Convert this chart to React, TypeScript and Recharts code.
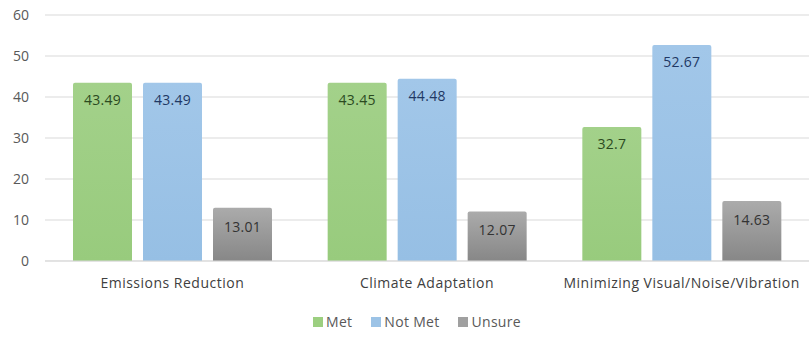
import React from "react";
import { BarChart, Bar, XAxis, YAxis, CartesianGrid, Legend, LabelList } from "recharts";

const categories = ["Emissions Reduction", "Climate Adaptation", "Minimizing Visual/Noise/Vibration"];
const met = [43.49, 43.45, 32.7];
const notMet = [43.49, 44.48, 52.67];
const unsure = [13.01, 12.07, 14.63];
const yTicks = [0, 10, 20, 30, 40, 50, 60];
const seriesNames = ["Met", "Not Met", "Unsure"];
const seriesColors = ["#9ccf80", "#9cc3e6", "#a0a0a0"];

const data = categories.map((c, i) => ({ name: c, Met: met[i], "Not Met": notMet[i], Unsure: unsure[i] }));

const FONT = "'Open Sans', sans-serif";

const LegendContent = () => (
  <div style={{ display: "flex", alignItems: "center", height: 20, paddingLeft: 313, fontFamily: FONT, fontSize: 14, letterSpacing: 0.3, color: "#595959" }}>
    {seriesNames.map((n, i) => (
      <div key={n} style={{ display: "flex", alignItems: "center", marginRight: 19 }}>
        <span style={{ display: "inline-block", width: 10, height: 10, background: seriesColors[i], marginRight: 3 }} />
        <span style={{ lineHeight: "20px" }}>{n}</span>
      </div>
    ))}
  </div>
);

export default function App() {
  return (
    <div style={{ position: "absolute", left: 0, top: 0, width: 809, height: 339, background: "#fff", fontFamily: FONT }}>
      <BarChart
        width={809}
        height={339}
        data={data}
        margin={{ top: 15, right: 0, bottom: 0, left: 0 }}
        barCategoryGap={28}
        barGap={11}
      >
        <defs>
          <linearGradient id="gGreen" x1="0" y1="0" x2="0" y2="1">
            <stop offset="0%" stopColor="#a3d18a" />
            <stop offset="100%" stopColor="#98cb7d" />
          </linearGradient>
          <linearGradient id="gBlue" x1="0" y1="0" x2="0" y2="1">
            <stop offset="0%" stopColor="#a2c7e9" />
            <stop offset="100%" stopColor="#96bfe4" />
          </linearGradient>
          <linearGradient id="gGray" x1="0" y1="0" x2="0" y2="1">
            <stop offset="0%" stopColor="#ababab" />
            <stop offset="100%" stopColor="#878787" />
          </linearGradient>
        </defs>
        <CartesianGrid vertical={false} stroke="#d9d9d9" />
        <XAxis
          dataKey="name"
          axisLine={{ stroke: "#d9d9d9" }}
          tickLine={false}
          tickMargin={11}
          height={35}
          tick={{ fill: "#404040", fontSize: 14, fontFamily: FONT, letterSpacing: 0.5 }}
        />
        <YAxis
          domain={[0, 60]}
          ticks={yTicks}
          axisLine={false}
          tickLine={false}
          width={45}
          tickMargin={10}
          tick={{ fill: "#595959", fontSize: 14, fontFamily: FONT }}
        />
        <Legend
          verticalAlign="bottom"
          height={27}
          wrapperStyle={{ paddingTop: 16 }}
          content={<LegendContent />}
        />
        <Bar dataKey="Met" fill="url(#gGreen)" barSize={59} radius={[2, 2, 0, 0]} isAnimationActive={false}>
          <LabelList dataKey="Met" position="insideTop" offset={12} style={{ fill: "#2b4a1f", fontSize: 14, fontFamily: FONT, letterSpacing: 0.3 }} />
        </Bar>
        <Bar dataKey="Not Met" fill="url(#gBlue)" barSize={59} radius={[2, 2, 0, 0]} isAnimationActive={false}>
          <LabelList dataKey="Not Met" position="insideTop" offset={12} style={{ fill: "#1f3864", fontSize: 14, fontFamily: FONT, letterSpacing: 0.3 }} />
        </Bar>
        <Bar dataKey="Unsure" fill="url(#gGray)" barSize={59} radius={[2, 2, 0, 0]} isAnimationActive={false}>
          <LabelList dataKey="Unsure" position="insideTop" offset={14} style={{ fill: "#333333", fontSize: 14, fontFamily: FONT, letterSpacing: 0.3 }} />
        </Bar>
      </BarChart>
    </div>
  );
}
